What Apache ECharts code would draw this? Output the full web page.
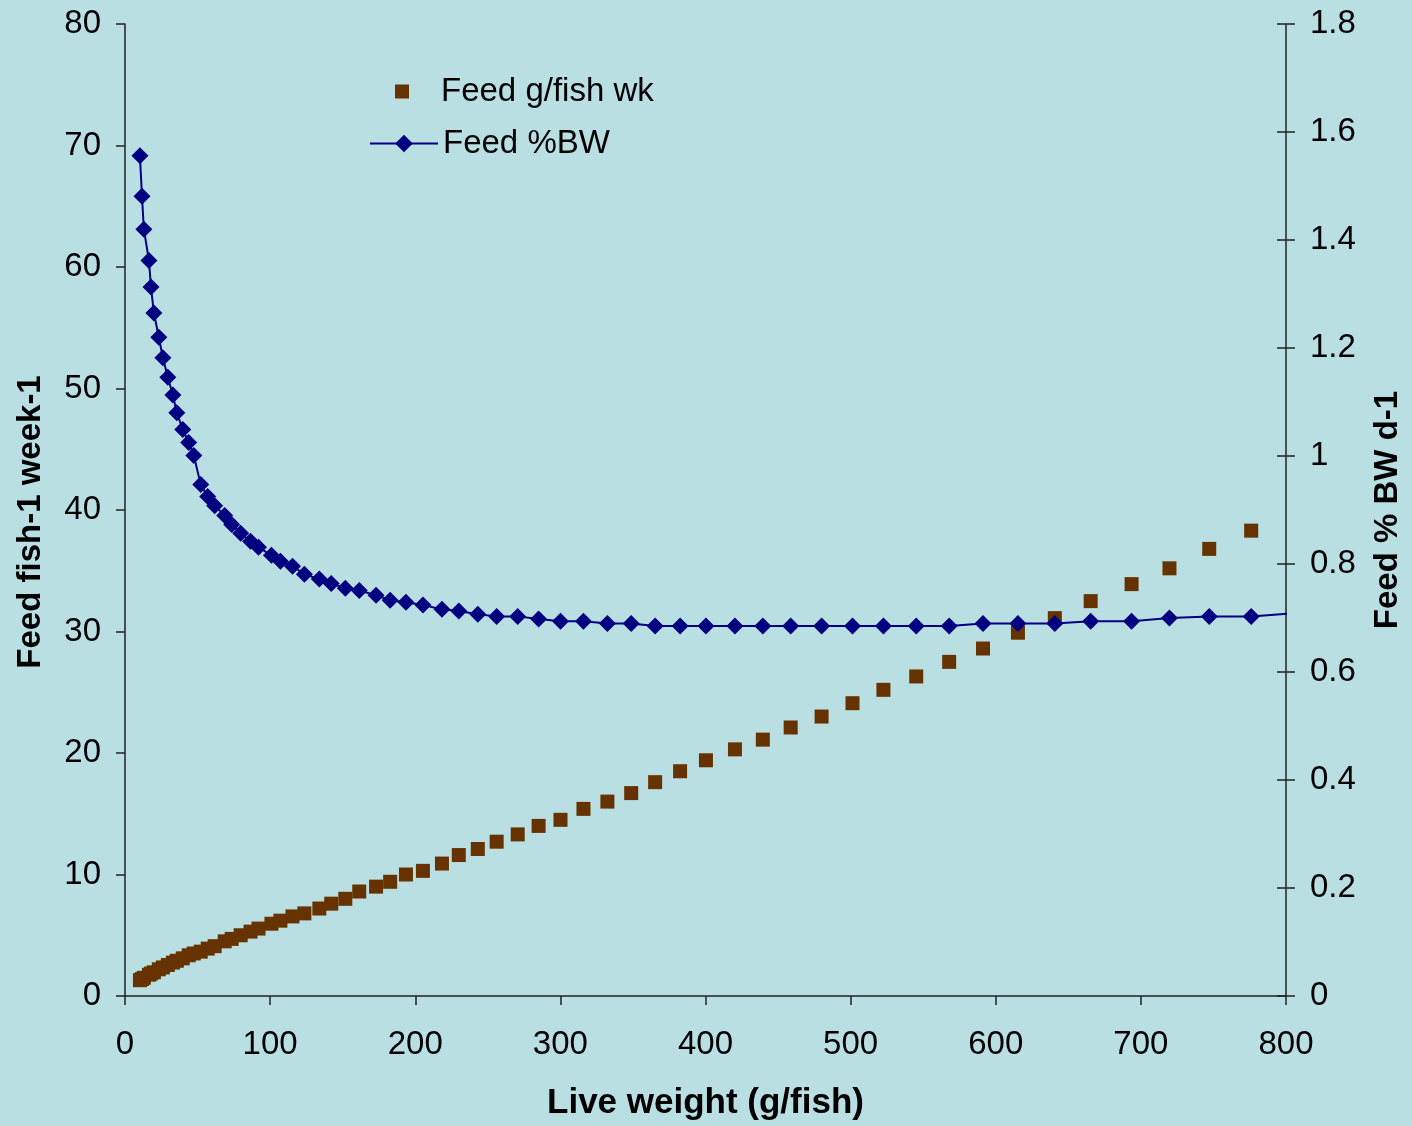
<!DOCTYPE html>
<html>
<head>
<meta charset="utf-8">
<script src="https://cdn.jsdelivr.net/npm/echarts@6/dist/echarts.min.js"></script>
<style>
  html, body { margin: 0; padding: 0; background: #B9DFE3; overflow: hidden; }
  #chart { width: 1412px; height: 1126px; }
</style>
</head>
<body>
<div id="chart"></div>
<script>
// Live weight (g/fish) for each weekly point
const liveWeight = [10.3, 11.7, 13.0, 16.5, 17.9, 19.9, 23.3, 26.1, 29.5, 33.0,
  35.7, 39.8, 43.9, 47.4, 52.2, 57.0, 61.8, 68.7, 73.5, 79.7,
  86.5, 92.0, 100.9, 107.1, 115.4, 123.6, 133.9, 142.1, 151.8, 161.4,
  173.0, 182.7, 193.6, 205.3, 218.4, 230.0, 243.1, 256.1, 270.6, 285.0,
  300.1, 315.9, 332.4, 348.8, 365.3, 382.5, 400.3, 420.3, 439.5, 458.7,
  480.0, 501.3, 522.6, 545.2, 567.9, 591.2, 615.3, 640.7, 665.4, 693.6,
  719.7, 747.1, 776.0];
// Feed g/fish wk (left axis)
const feedGrams = [1.3, 1.4, 1.5, 1.75, 1.85, 1.95, 2.2, 2.35, 2.55, 2.75,
  2.9, 3.1, 3.35, 3.5, 3.65, 3.9, 4.1, 4.5, 4.7, 5.0,
  5.3, 5.55, 5.95, 6.2, 6.55, 6.8, 7.2, 7.6, 8.0, 8.6,
  9.0, 9.4, 10.0, 10.3, 10.9, 11.6, 12.1, 12.7, 13.3, 14.0,
  14.5, 15.4, 16.0, 16.7, 17.6, 18.5, 19.4, 20.3, 21.1, 22.1,
  23.0, 24.1, 25.2, 26.3, 27.5, 28.6, 29.9, 31.1, 32.5, 33.9,
  35.2, 36.8, 38.3];
// Feed %BW per day (right axis)
const feedPctBW = [1.556, 1.481, 1.420, 1.362, 1.313, 1.265, 1.220, 1.182, 1.146, 1.113,
  1.080, 1.049, 1.025, 1.001, 0.947, 0.925, 0.908, 0.890, 0.873, 0.857,
  0.842, 0.831, 0.816, 0.805, 0.796, 0.781, 0.772, 0.764, 0.755, 0.751,
  0.742, 0.733, 0.729, 0.724, 0.716, 0.713, 0.707, 0.703, 0.703, 0.698,
  0.694, 0.694, 0.690, 0.690, 0.685, 0.685, 0.685, 0.685, 0.685, 0.685,
  0.685, 0.685, 0.685, 0.685, 0.685, 0.690, 0.690, 0.690, 0.694, 0.694,
  0.700, 0.703, 0.703];
// the line continues slightly past the 800 g edge
const lineTailWeight = 807;
const lineTailPct = 0.709;

const xTicks = { min: 0, max: 800, interval: 100 };
const leftTicks = { min: 0, max: 80, interval: 10 };
const rightTicks = { min: 0, max: 1.8, interval: 0.2 };

const FONT = '"Liberation Sans", Arial, sans-serif';
const AXIS_COLOR = '#222';
const BROWN = '#663300';
const NAVY = '#000080';

const squares = liveWeight.map((w, i) => [w, feedGrams[i]]);
const diamonds = liveWeight.map((w, i) => [w, feedPctBW[i]]);
diamonds.push({ value: [lineTailWeight, lineTailPct], symbolSize: 0 });

const chart = echarts.init(document.getElementById('chart'), null, { renderer: 'canvas' });
chart.setOption({
  backgroundColor: '#B9DFE3',
  animation: false,
  textStyle: { fontFamily: FONT },
  grid: { left: 125, right: 121, top: 24, bottom: 127, containLabel: false },
  legend: [
    {
      orient: 'vertical',
      left: 390, top: 70,
      itemWidth: 14, itemHeight: 14,
      textStyle: { fontFamily: FONT, fontSize: 33, color: '#000', padding: [0, 0, 0, 27] },
      data: [{ name: 'Feed g/fish wk', icon: 'rect' }]
    },
    {
      orient: 'vertical',
      left: 364, top: 122,
      itemWidth: 68, itemHeight: 22,
      textStyle: { fontFamily: FONT, fontSize: 33, color: '#000' },
      data: ['Feed %BW']
    }
  ],
  xAxis: {
    type: 'value',
    min: xTicks.min, max: xTicks.max, interval: xTicks.interval,
    name: 'Live weight (g/fish)',
    nameLocation: 'middle',
    nameGap: 90,
    nameTextStyle: { fontFamily: FONT, fontSize: 35, fontWeight: 'bold', color: '#000' },
    axisLine: { show: true, lineStyle: { color: AXIS_COLOR, width: 1.5 } },
    axisTick: { show: true, length: 9, lineStyle: { color: AXIS_COLOR, width: 1.5 } },
    axisLabel: { fontFamily: FONT, fontSize: 33, color: '#000', margin: 32 },
    splitLine: { show: false }
  },
  yAxis: [
    {
      type: 'value', position: 'left',
      min: leftTicks.min, max: leftTicks.max, interval: leftTicks.interval,
      name: 'Feed fish-1 week-1',
      nameLocation: 'middle',
      nameGap: 78,
      nameTextStyle: { fontFamily: FONT, fontSize: 33, fontWeight: 'bold', color: '#000', padding: [0, 24, 0, 0] },
      axisLine: { show: true, lineStyle: { color: AXIS_COLOR, width: 1.5 } },
      axisTick: { show: true, length: 9, lineStyle: { color: AXIS_COLOR, width: 1.5 } },
      axisLabel: { fontFamily: FONT, fontSize: 33, color: '#000', margin: 24 },
      splitLine: { show: false }
    },
    {
      type: 'value', position: 'right',
      min: rightTicks.min, max: rightTicks.max, interval: rightTicks.interval,
      name: 'Feed % BW d-1',
      nameLocation: 'middle',
      nameGap: 85,
      nameTextStyle: { fontFamily: FONT, fontSize: 33, fontWeight: 'bold', color: '#000' },
      axisLine: { show: true, lineStyle: { color: AXIS_COLOR, width: 1.5 } },
      axisTick: { show: true, length: 9, lineStyle: { color: AXIS_COLOR, width: 1.5 } },
      axisLabel: { fontFamily: FONT, fontSize: 33, color: '#000', margin: 24 },
      splitLine: { show: false }
    },
    {
      // inner half of the crossing ticks on the right axis
      type: 'value', position: 'right',
      min: rightTicks.min, max: rightTicks.max, interval: rightTicks.interval,
      axisLine: { show: false },
      axisTick: { show: true, inside: true, length: 9, lineStyle: { color: AXIS_COLOR, width: 1.5 } },
      axisLabel: { show: false },
      splitLine: { show: false }
    }
  ],
  series: [
    {
      name: 'Feed g/fish wk',
      type: 'scatter',
      yAxisIndex: 0,
      symbol: 'rect',
      symbolSize: 14,
      itemStyle: { color: BROWN, opacity: 1 },
      data: squares,
      z: 2
    },
    {
      name: 'Feed %BW',
      type: 'line',
      yAxisIndex: 1,
      symbol: 'diamond',
      symbolSize: 17,
      showAllSymbol: true,
      clip: false,
      lineStyle: { color: NAVY, width: 2 },
      itemStyle: { color: NAVY },
      data: diamonds,
      z: 3
    }
  ]
});
</script>
</body>
</html>
